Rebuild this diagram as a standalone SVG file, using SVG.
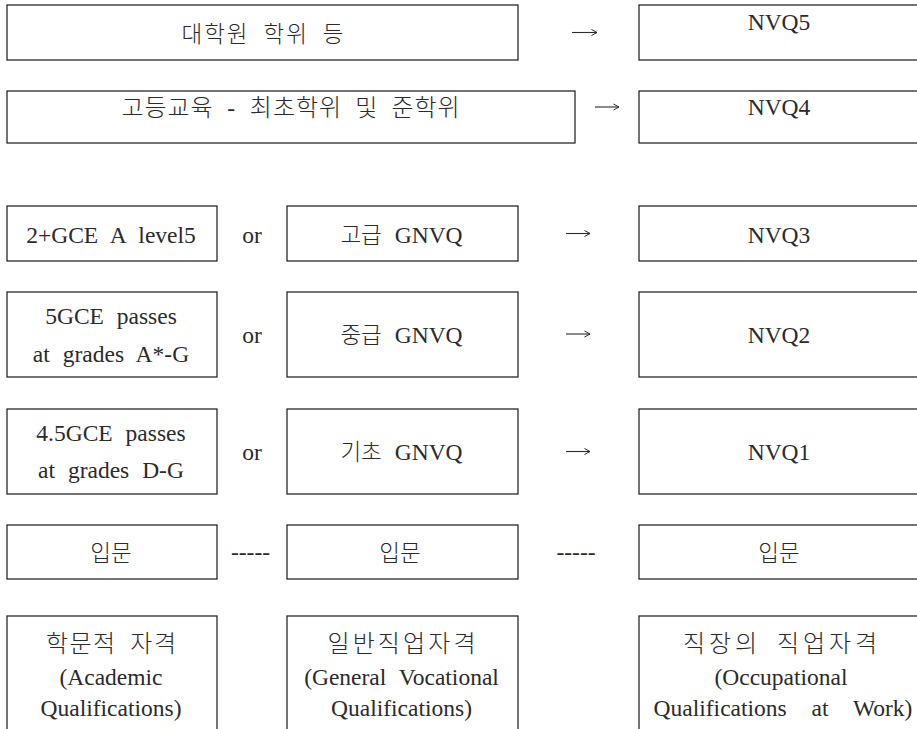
<svg xmlns="http://www.w3.org/2000/svg" width="917" height="729" viewBox="0 0 917 729">
<style>
.box{fill:#fff;stroke:#2a2a2a;stroke-width:1.3}
.t{font-family:'Liberation Serif','Times New Roman',Times,serif,'Noto Sans CJK KR';font-size:23.5px;fill:#2b2b2b;text-anchor:middle;word-spacing:7px}
.k{font-family:'Noto Sans CJK KR','Noto Sans CJK SC',sans-serif;font-size:22.5px;font-weight:300}
.kl{font-size:24px}
.c{font-family:'Liberation Serif','Times New Roman',Times,serif;font-size:23.5px;fill:#2b2b2b;text-anchor:middle}
.arr{fill:none;stroke:#2b2b2b;stroke-width:1.1}
</style>
<defs>
<marker id="ah" markerWidth="8" markerHeight="8" refX="7" refY="4" orient="auto" markerUnits="userSpaceOnUse">
<path d="M1.5,1 L7,4 L1.5,7" fill="none" stroke="#2b2b2b" stroke-width="1"/>
</marker>
</defs>
<rect width="917" height="729" fill="#fff"/>
<g id="n-grad">
<rect class="box" x="7" y="5" width="511" height="55"/>
<text class="t k" x="262.5" y="42" textLength="162" lengthAdjust="spacing">대학원 학위 등</text>
</g>
<g id="n-higher">
<rect class="box" x="7" y="91" width="568" height="52"/>
<text class="t" x="290.5" y="116" textLength="338" lengthAdjust="spacing"><tspan class="k kl">고등교육</tspan> - <tspan class="k kl">최초학위 및 준학위</tspan></text>
</g>
<g id="n-nvq5">
<rect class="box" x="639" y="5" width="290" height="55"/>
<text class="t" x="779" y="30">NVQ5</text>
</g>
<g id="n-nvq4">
<rect class="box" x="639" y="91" width="290" height="52"/>
<text class="t" x="779" y="115">NVQ4</text>
</g>
<g id="n-alevel">
<rect class="box" x="7" y="206" width="210" height="55"/>
<text class="t" x="111" y="243">2+GCE A level5</text>
</g>
<g id="n-gnvq-adv">
<rect class="box" x="287" y="206" width="231" height="55"/>
<text class="t" x="401.5" y="243"><tspan class="k">고급</tspan> GNVQ</text>
</g>
<g id="n-nvq3">
<rect class="box" x="639" y="206" width="290" height="55"/>
<text class="t" x="779" y="243">NVQ3</text>
</g>
<g id="n-gcse1">
<rect class="box" x="7" y="292" width="210" height="85"/>
<text class="t" x="111" y="324">5GCE passes</text>
<text class="t" x="111" y="362">at grades A*-G</text>
</g>
<g id="n-gnvq-int">
<rect class="box" x="287" y="292" width="231" height="85"/>
<text class="t" x="401.5" y="343"><tspan class="k">중급</tspan> GNVQ</text>
</g>
<g id="n-nvq2">
<rect class="box" x="639" y="292" width="290" height="85"/>
<text class="t" x="779" y="343">NVQ2</text>
</g>
<g id="n-gcse2">
<rect class="box" x="7" y="409" width="210" height="85"/>
<text class="t" x="111" y="441">4.5GCE passes</text>
<text class="t" x="111" y="478">at grades D-G</text>
</g>
<g id="n-gnvq-fnd">
<rect class="box" x="287" y="409" width="231" height="85"/>
<text class="t" x="401.5" y="460"><tspan class="k">기초</tspan> GNVQ</text>
</g>
<g id="n-nvq1">
<rect class="box" x="639" y="409" width="290" height="85"/>
<text class="t" x="779" y="460">NVQ1</text>
</g>
<g id="n-entry1">
<rect class="box" x="7" y="525" width="210" height="54"/>
<text class="t k" x="111" y="561">입문</text>
</g>
<g id="n-entry2">
<rect class="box" x="287" y="525" width="231" height="54"/>
<text class="t k" x="400" y="561">입문</text>
</g>
<g id="n-entry3">
<rect class="box" x="639" y="525" width="290" height="54"/>
<text class="t k" x="779" y="561">입문</text>
</g>
<g id="n-academic">
<rect class="box" x="7" y="616" width="210" height="130"/>
<text class="t k kl" x="111" y="652" textLength="130" lengthAdjust="spacing">학문적 자격</text>
<text class="t" x="111" y="685">(Academic</text>
<text class="t" x="111" y="716">Qualifications)</text>
</g>
<g id="n-general">
<rect class="box" x="287" y="616" width="231" height="130"/>
<text class="t k kl" x="401.5" y="652" textLength="148" lengthAdjust="spacing">일반직업자격</text>
<text class="t" x="401.5" y="685">(General Vocational</text>
<text class="t" x="401.5" y="716">Qualifications)</text>
</g>
<g id="n-occupational">
<rect class="box" x="639" y="616" width="290" height="130"/>
<text class="t k kl" x="780" y="652" textLength="194" lengthAdjust="spacing">직장의 직업자격</text>
<text class="t" x="781" y="685">(Occupational</text>
<text class="t" x="783" y="716" style="word-spacing:19px">Qualifications at Work)</text>
</g>
<g id="connectors">
<path class="arr" d="M572,32.5 H597" marker-end="url(#ah)"/>
<path class="arr" d="M595,107 H619" marker-end="url(#ah)"/>
<path class="arr" d="M566,233.5 H590" marker-end="url(#ah)"/>
<path class="arr" d="M566,334 H590" marker-end="url(#ah)"/>
<path class="arr" d="M566,451.5 H590" marker-end="url(#ah)"/>
<text class="c" x="252" y="243">or</text>
<text class="c" x="252" y="343">or</text>
<text class="c" x="252" y="460">or</text>
<text class="c" x="250.5" y="560">-----</text>
<text class="c" x="576" y="560">-----</text>
</g>
</svg>
